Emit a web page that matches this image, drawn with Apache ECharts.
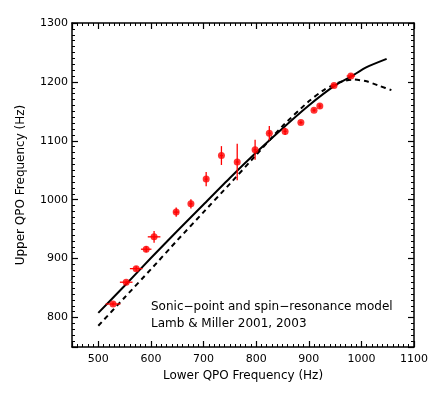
<!DOCTYPE html>
<html>
<head>
<meta charset="utf-8">
<script src="https://cdn.jsdelivr.net/npm/echarts@6/dist/echarts.min.js"></script>
<style>
  html, body { margin: 0; padding: 0; background: #fff; }
  #chart { width: 436px; height: 393px; }
</style>
</head>
<body>
<div id="chart"></div>
<script>
// measured QPO pairs (Hz)
var lowerQPO = [528, 553, 572, 591, 606, 648, 676, 705, 734, 764, 798, 825, 855, 885, 910, 921, 948, 980];
var upperQPO = [823, 860, 883, 916, 937, 979, 993, 1035, 1075, 1064, 1085, 1113, 1116, 1131, 1152, 1159, 1194, 1210];
var lowerErr = [14, 12, 12, 10, 12, 5, 3, 3, 3, 3, 3, 3, 3, 3, 3, 3, 5, 8];
var upperErr = [3, 3, 4, 5, 10, 8, 8, 12, 16, 31, 17, 12, 6, 3, 3, 4, 3, 4];

// model curves
var solidX = [500, 550, 600, 650, 700, 750, 800, 850, 900, 950, 980, 1010, 1048];
var solidY = [808, 854, 901, 947, 992, 1037, 1080, 1121, 1160, 1194, 1209, 1225, 1239];
var dashX = [500, 550, 600, 650, 700, 750, 800, 850, 900, 930, 960, 985, 1010, 1035, 1057];
var dashY = [786, 834, 882, 931, 979, 1027, 1076, 1125, 1167, 1187, 1200, 1204, 1201, 1193, 1186];

var font = '"DejaVu Sans", Verdana, sans-serif';

function zip(a, b) {
  return a.map(function (v, i) { return [v, b[i]]; });
}

var points = zip(lowerQPO, upperQPO);
var errData = lowerQPO.map(function (v, i) {
  return [v, upperQPO[i], lowerErr[i], upperErr[i]];
});

function baseAxis(extra) {
  var ax = {
    type: 'value',
    axisLine: { show: true, onZero: false, lineStyle: { color: '#000', width: 1.5 } },
    axisTick: { show: true, inside: true, length: 6, lineStyle: { color: '#000', width: 1.2 } },
    minorTick: { show: true, splitNumber: 10, length: 3, lineStyle: { color: '#000', width: 1 } },
    splitLine: { show: false },
    axisLabel: { show: false }
  };
  for (var k in extra) ax[k] = extra[k];
  return ax;
}

function plain(v) { return String(v); }

var chart = echarts.init(document.getElementById('chart'));

var option = {
  animation: false,
  backgroundColor: '#fff',
  grid: { left: 72, right: 22, top: 23, bottom: 46, outerBoundsMode: 'none' },
  xAxis: [
    baseAxis({
      min: 450, max: 1100, position: 'bottom',
      name: 'Lower QPO Frequency (Hz)', nameLocation: 'middle', nameGap: 23,
      nameTextStyle: { color: '#000', fontSize: 12, fontFamily: font },
      axisLabel: { show: true, showMinLabel: false, margin: 7, formatter: plain, color: '#000', fontSize: 11, fontFamily: font }
    }),
    baseAxis({ min: 450, max: 1100, position: 'top' })
  ],
  yAxis: [
    baseAxis({
      min: 750, max: 1300, position: 'left',
      name: 'Upper QPO Frequency (Hz)', nameLocation: 'middle', nameGap: 45,
      nameTextStyle: { color: '#000', fontSize: 12, fontFamily: font },
      axisLabel: { show: true, showMinLabel: false, margin: 4, formatter: plain, color: '#000', fontSize: 11, fontFamily: font }
    }),
    baseAxis({ min: 750, max: 1300, position: 'right' })
  ],
  graphic: [
    {
      type: 'text', left: 151, top: 301,
      style: { text: 'Sonic\u2212point and spin\u2212resonance model', fill: '#000', font: '12px ' + font }
    },
    {
      type: 'text', left: 151, top: 318,
      style: { text: 'Lamb & Miller 2001, 2003', fill: '#000', font: '12px ' + font }
    }
  ],
  series: [
    {
      type: 'line',
      data: zip(solidX, solidY),
      smooth: 0.2,
      symbol: 'none',
      lineStyle: { color: '#000', width: 2 },
      z: 2
    },
    {
      type: 'line',
      data: zip(dashX, dashY),
      smooth: 0.2,
      symbol: 'none',
      lineStyle: { color: '#000', width: 2, type: [5, 4] },
      z: 2
    },
    {
      type: 'custom',
      data: errData,
      renderItem: function (params, api) {
        var x = api.value(0), y = api.value(1), ex = api.value(2), ey = api.value(3);
        var l = api.coord([x - ex, y]), r = api.coord([x + ex, y]);
        var b = api.coord([x, y - ey]), t = api.coord([x, y + ey]);
        var st = { stroke: '#ff0000', lineWidth: 1.3 };
        return {
          type: 'group',
          children: [
            { type: 'line', shape: { x1: l[0], y1: l[1], x2: r[0], y2: r[1] }, style: st },
            { type: 'line', shape: { x1: b[0], y1: b[1], x2: t[0], y2: t[1] }, style: st }
          ]
        };
      },
      z: 3
    },
    {
      type: 'scatter',
      data: points,
      symbol: 'circle',
      symbolSize: 7,
      itemStyle: { color: '#ff0000' },
      z: 4
    }
  ]
};

chart.setOption(option);
</script>
</body>
</html>
